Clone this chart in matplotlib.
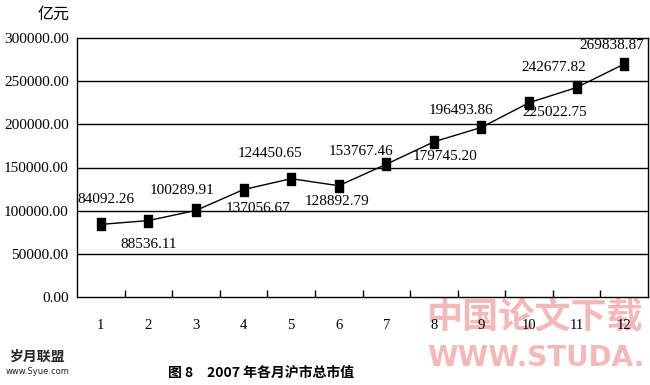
import matplotlib
matplotlib.use("Agg")
import matplotlib.pyplot as plt
import numpy as np

# ── Data ──────────────────────────────────────────────────────────
months = [1, 2, 3, 4, 5, 6, 7, 8, 9, 10, 11, 12]
market_cap = [84092.26, 88536.11, 100289.91, 124450.65, 137056.67, 128892.79,
              153767.46, 179745.20, 196493.86, 225022.75, 242677.82, 269838.87]
y_ticks = [0, 50000, 100000, 150000, 200000, 250000, 300000]

# label offsets in pixels (dx right, dy down) as placed in the source
label_off = [(5, -25), (0, 24), (-14, -20), (27, -36), (-33, 30), (-2, 16),
             (-25, -13), (11, 15), (-20, -17), (26, 10), (-23, -20), (-12, -19)]

SERIF = ["Liberation Serif", "DejaVu Serif"]
CJK = ["Noto Sans CJK SC", "DejaVu Sans"]

fig = plt.figure(figsize=(6.5, 3.85), dpi=100)
ax = fig.add_axes([77/650, 88/385, 571/650, 259/385])
ax.patch.set_alpha(0)

# rectangular marker, taller than wide
rect = [(-0.35, -0.5), (0.35, -0.5), (0.35, 0.5), (-0.35, 0.5), (-0.35, -0.5)]
ax.plot(months, market_cap, color="black", linewidth=1.0,
        marker=rect, markersize=9, markerfacecolor="black", zorder=3)

for m, v, (dx, dy) in zip(months, market_cap, label_off):
    ax.annotate(f"{v:.2f}", (m, v), xytext=(dx, -dy), textcoords="offset pixels",
                ha="center", va="center", fontsize=11, family=SERIF)

for yv in y_ticks[1:-1]:
    ax.axhline(yv, color="black", linewidth=1.0, zorder=1)

ax.set_xlim(0.5, 12.5)
ax.set_ylim(0, 300000)
ax.set_yticks(y_ticks)
ax.set_yticklabels([f"{t:.2f}" for t in y_ticks], fontsize=11, family=SERIF)
ax.set_xticks(months)
ax.set_xticklabels([str(m) for m in months], fontsize=10.5, family=SERIF)
ax.set_xticks(np.arange(1.5, 12.5, 1.0), minor=True)
ax.tick_params(axis="x", which="major", length=0, pad=16)
ax.tick_params(axis="x", which="minor", direction="in", length=5, width=1)
ax.tick_params(axis="y", length=0, pad=6)
for s in ax.spines.values():
    s.set_linewidth(1.0)

fig.text(70/650, 1 - 14/385, "亿元", ha="right", va="center",
         fontsize=11.5, family=CJK)
fig.text(261/650, 1 - 373/385, "图 8　2007 年各月沪市总市值", ha="center",
         va="center", fontsize=10, fontweight="bold", family=CJK)

# watermarks
fig.text(38/650, 1 - 357/385, "岁月联盟", ha="center", va="center",
         fontsize=10, fontweight="bold", family=CJK, color="#222222")
fig.text(38/650, 1 - 371/385, "www.Syue.com", ha="center", va="center",
         fontsize=6, color="#222222")
fig.text(535/650, 1 - 318/385, "中国论文下载", ha="center", va="center",
         fontsize=26, fontweight="bold", family=CJK, color="#f5b8b8",
         zorder=-1)
fig.text(536/650, 1 - 358/385, "WWW.STUDA.", ha="center", va="center",
         fontsize=20, fontweight="bold", color="#f5b8b8", zorder=-1)

plt.savefig("out.png", dpi=100)
plt.close()
